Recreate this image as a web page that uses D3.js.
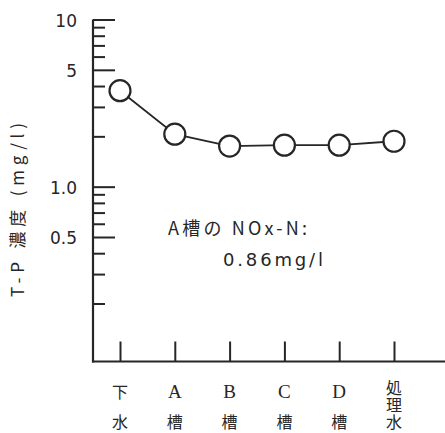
<!DOCTYPE html>
<html>
<head>
<meta charset="utf-8">
<script src="https://cdn.jsdelivr.net/npm/d3@7/dist/d3.min.js"></script>
<style>
  html, body { margin: 0; padding: 0; background: #fff; }
  svg { display: block; }
</style>
</head>
<body>
<svg id="chart" width="445" height="433"></svg>
<script>
// ---- data ----
const categories = ["下水", "A槽", "B槽", "C槽", "D槽", "処理水"];
const tpValues = [3.75, 2.06, 1.75, 1.77, 1.77, 1.87];
const majorTicks = [10, 5, 1, 0.5];
const majorTickLabels = ["10", "5", "1.0", "0.5"];
const minorTicks = [9, 8, 7, 6, 4, 3, 2, 0.9, 0.8, 0.7, 0.6, 0.4, 0.3, 0.2];
const yAxisTitle = "T-P 濃度 (mg/l)";
const noteLines = ["A槽の NOx-N:", "0.86mg/l"];

// ---- layout ----
const svg = d3.select("#chart");
const ink = "#262626";
const axisX = 93, axisTop = 19.5, axisBottom = 361.5, axisRight = 445;

const y = d3.scaleLog().domain([0.09, 10]).range([axisBottom, axisTop]);
const x = d3.scalePoint().domain(categories).range([120, 394]);

// y axis (major)
const yMajor = d3.axisRight(y).tickValues(majorTicks).tickSize(22).tickFormat("");
const gMaj = svg.append("g").attr("transform", `translate(${axisX},0)`).call(yMajor);
gMaj.select(".domain").remove();
gMaj.selectAll(".tick line").attr("stroke", ink).attr("stroke-width", 2);

// y axis (minor)
const yMinor = d3.axisRight(y).tickValues(minorTicks).tickSize(12).tickFormat("");
const gMin = svg.append("g").attr("transform", `translate(${axisX},0)`).call(yMinor);
gMin.select(".domain").remove();
gMin.selectAll(".tick line").attr("stroke", ink).attr("stroke-width", 2);

// y tick labels
svg.append("g").selectAll("text")
  .data(majorTicks)
  .join("text")
  .attr("x", 77)
  .attr("y", d => y(d) + 1)
  .attr("text-anchor", "end")
  .attr("dominant-baseline", "central")
  .attr("font-family", "DejaVu Sans, sans-serif")
  .attr("font-size", 17)
  .attr("fill", ink)
  .text((d, i) => majorTickLabels[i]);

// axis lines
svg.append("line")
  .attr("x1", axisX).attr("x2", axisX)
  .attr("y1", axisTop).attr("y2", axisBottom + 1)
  .attr("stroke", ink).attr("stroke-width", 2.2);
svg.append("line")
  .attr("x1", axisX - 1).attr("x2", axisRight)
  .attr("y1", axisBottom).attr("y2", axisBottom)
  .attr("stroke", ink).attr("stroke-width", 2.2);

// x ticks
const xAxis = d3.axisTop(x).tickSize(20).tickFormat("");
const gx = svg.append("g").attr("transform", `translate(0,${axisBottom})`).call(xAxis);
gx.select(".domain").remove();
gx.selectAll(".tick line").attr("stroke", ink).attr("stroke-width", 2);

// x category labels
const gl = svg.append("g");
categories.forEach(c => {
  const chars = Array.from(c);
  if (chars.length === 3) {
    gl.append("text")
      .attr("x", x(c))
      .attr("y", 380)
      .attr("text-anchor", "start")
      .style("writing-mode", "vertical-rl")
      .attr("font-family", "Noto Sans CJK JP, sans-serif")
      .attr("font-size", 16)
      .attr("letter-spacing", 1)
      .attr("fill", ink)
      .text(c);
  } else {
    chars.forEach((ch, j) => {
      const latin = /[A-D]/.test(ch);
      gl.append("text")
        .attr("x", x(c))
        .attr("y", 391 + j * 30)
        .attr("text-anchor", "middle")
        .attr("dominant-baseline", "central")
        .attr("font-family", latin ? "Liberation Serif, serif" : "Noto Sans CJK JP, sans-serif")
        .attr("font-size", latin ? 19 : 16)
        .attr("fill", ink)
        .text(ch);
    });
  }
});

// y axis title
svg.append("text")
  .attr("transform", `translate(24,210) rotate(-90)`)
  .attr("text-anchor", "middle")
  .attr("font-family", "Noto Sans CJK JP, sans-serif")
  .attr("font-size", 17)
  .attr("fill", ink)
  .attr("textLength", 174)
  .attr("lengthAdjust", "spacing")
  .text(yAxisTitle);

// line
const line = d3.line()
  .x((d, i) => x(categories[i]))
  .y(d => y(d));
svg.append("path")
  .datum(tpValues)
  .attr("d", line)
  .attr("fill", "none")
  .attr("stroke", ink)
  .attr("stroke-width", 1.8);

// markers
svg.append("g").selectAll("circle")
  .data(tpValues)
  .join("circle")
  .attr("cx", (d, i) => x(categories[i]))
  .attr("cy", d => y(d))
  .attr("r", 10.5)
  .attr("fill", "#fff")
  .attr("stroke", ink)
  .attr("stroke-width", 2.2);

// annotation
svg.append("text")
  .attr("x", 168).attr("y", 235)
  .attr("font-family", "Noto Sans CJK JP, sans-serif")
  .attr("font-size", 18)
  .attr("fill", ink)
  .attr("textLength", 139)
  .attr("lengthAdjust", "spacing")
  .text(noteLines[0]);
svg.append("text")
  .attr("x", 223).attr("y", 266)
  .attr("font-family", "DejaVu Sans, sans-serif")
  .attr("font-size", 18)
  .attr("fill", ink)
  .attr("textLength", 100)
  .attr("lengthAdjust", "spacing")
  .text(noteLines[1]);
</script>
</body>
</html>
